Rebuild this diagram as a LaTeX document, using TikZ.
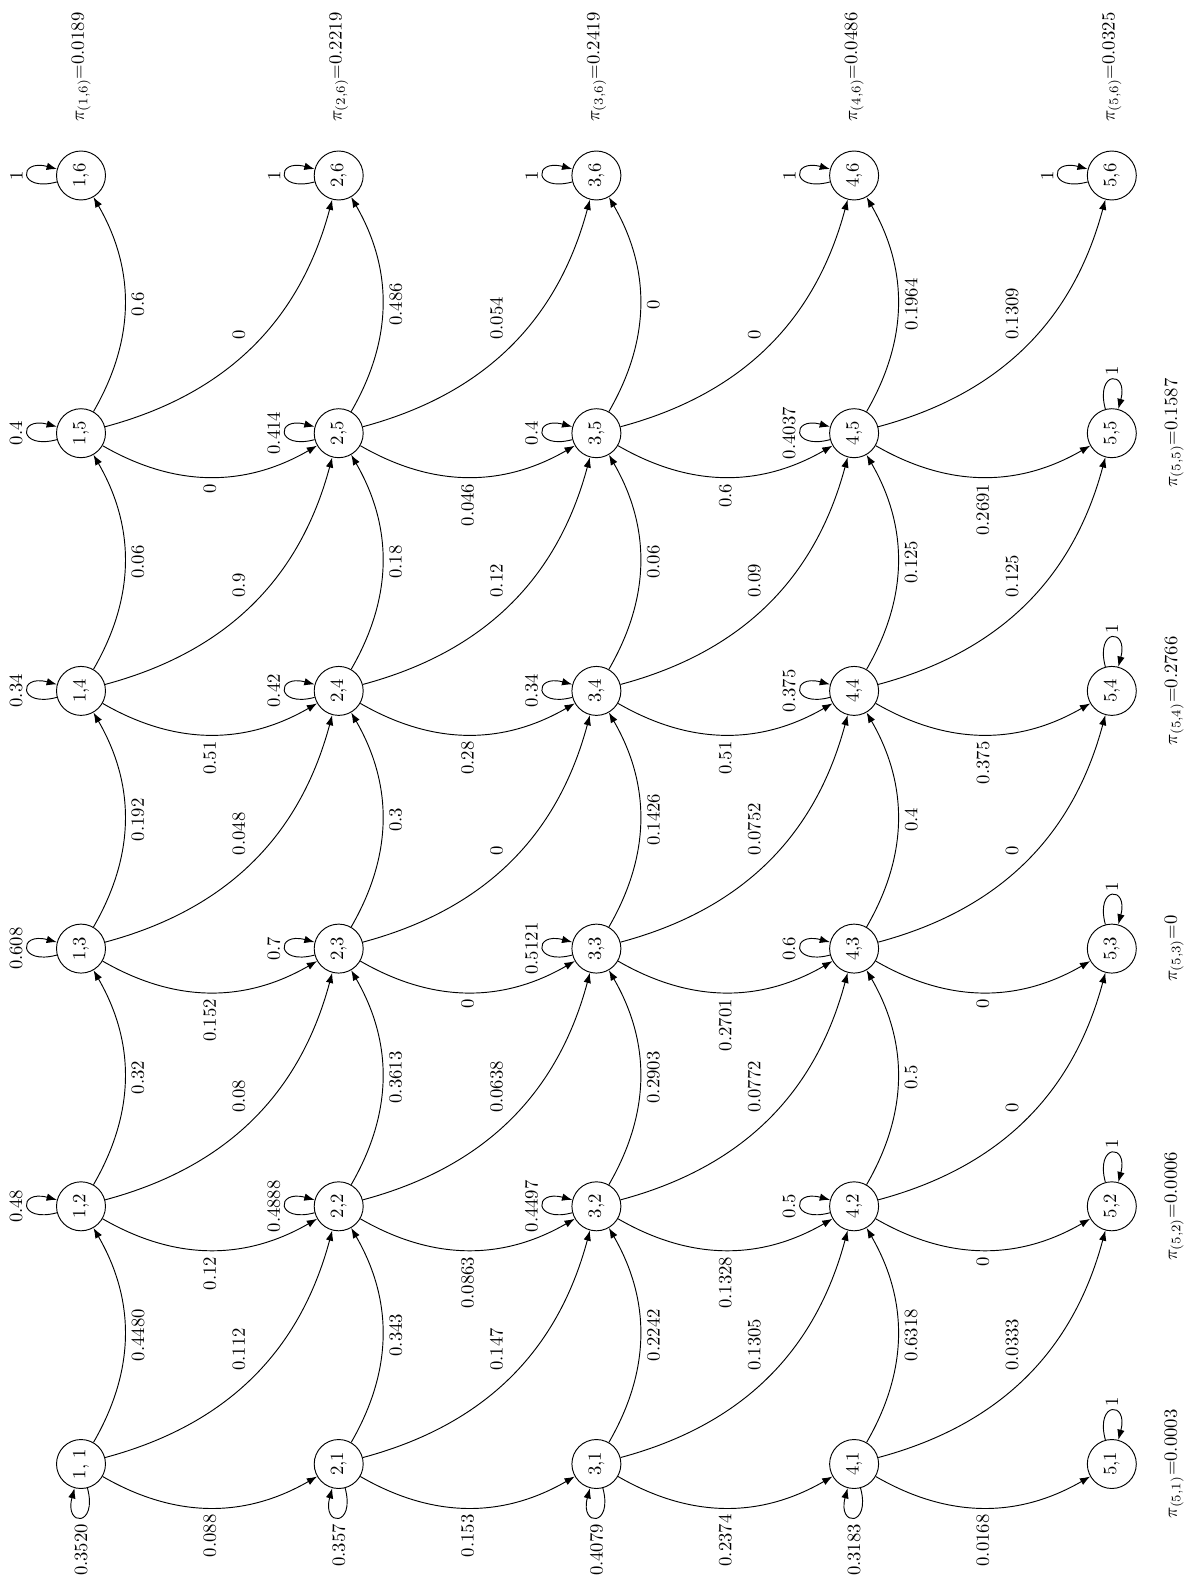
\documentclass[tikz,border=0pt]{standalone}
\usetikzlibrary{arrows.meta}
\begin{document}
\begin{tikzpicture}[x=0.5348pt,y=-0.5348pt,line width=0.5pt,
  >={Latex[length=5.5pt,width=4pt]},
  st/.style={draw,circle,minimum size=26.2pt,inner sep=0pt},
  lab/.style={rotate=90}]
\useasboundingbox (0,0) rectangle (1193,1583);
% states
\foreach \i in {1,...,5}{
  \foreach \j in {1,...,6}{
    \pgfmathsetmacro\xx{81+257.7*(\i-1)}
    \pgfmathsetmacro\yy{1464-257.7*(\j-1)}
    \node[st] (n\i\j) at (\xx,\yy) {\rotatebox{90}{\ifnum\i\j=11 1, 1\else\i,\j\fi}};
  }
}
% edges (i,j) -> (i,j+1)
\foreach \i/\j/\l [evaluate=\j as \k using int(\j+1)] in {
  1/1/0.4480,1/2/0.32,1/3/0.192,1/4/0.06,1/5/0.6,
  2/1/0.343,2/2/0.3613,2/3/0.3,2/4/0.18,2/5/0.486,
  3/1/0.2242,3/2/0.2903,3/3/0.1426,3/4/0.06,3/5/0,
  4/1/0.6318,4/2/0.5,4/3/0.4,4/4/0.125,4/5/0.1964}
  \draw[->] (n\i\j) to[bend right] node[lab,anchor=north] {\l} (n\i\k);
% edges (i,j) -> (i+1,j)
\foreach \i/\j/\l [evaluate=\i as \k using int(\i+1)] in {
  1/1/0.088,1/2/0.12,1/3/0.152,1/4/0.51,1/5/0,
  2/1/0.153,2/2/0.0863,2/3/0,2/4/0.28,2/5/0.046,
  3/1/0.2374,3/2/0.1328,3/3/0.2701,3/4/0.51,3/5/0.6,
  4/1/0.0168,4/2/0,4/3/0,4/4/0.375,4/5/0.2691}
  \draw[->] (n\i\j) to[bend right] node[lab,anchor=east] {\l} (n\k\j);
% edges (i,j) -> (i+1,j+1)
\foreach \i/\j/\l [evaluate=\i as \k using int(\i+1), evaluate=\j as \m using int(\j+1)] in {
  1/1/0.112,1/2/0.08,1/3/0.048,1/4/0.9,1/5/0,
  2/1/0.147,2/2/0.0638,2/3/0,2/4/0.12,2/5/0.054,
  3/1/0.1305,3/2/0.0772,3/3/0.0752,3/4/0.09,3/5/0,
  4/1/0.0333,4/2/0,4/3/0,4/4/0.125,4/5/0.1309}
  \draw[->] (n\i\j) to[bend right] node[lab,anchor=south west] {\l} (n\k\m);
% loops below
\foreach \i/\l in {1/0.3520,2/0.357,3/0.4079,4/0.3183}
  \draw[->] (n\i1) to[loop below] node[lab,anchor=east] {\l} (n\i1);
% loops left
\foreach \i/\j/\l in {
  1/2/0.48,1/3/0.608,1/4/0.34,1/5/0.4,1/6/1,
  2/2/0.4888,2/3/0.7,2/4/0.42,2/5/0.414,2/6/1,
  3/2/0.4497,3/3/0.5121,3/4/0.34,3/5/0.4,3/6/1,
  4/2/0.5,4/3/0.6,4/4/0.375,4/5/0.4037,4/6/1,
  5/6/1}
  \draw[->] (n\i\j) to[loop left] node[lab,anchor=south,inner sep=2.5pt] {\l} (n\i\j);
% loops above (row 5)
\foreach \j in {1,...,5}
  \draw[->] (n5\j) to[loop above] node[lab,anchor=west,inner sep=2pt] {1} (n5\j);
% stationary probabilities
\foreach \i/\l in {1/0.0189,2/0.2219,3/0.2419,4/0.0486,5/0.0325}
  \node[lab,anchor=west] (p\i6) at ([yshift=11.8pt]n\i6.north) {$\pi_{(\i,6)}$=\l};
\foreach \j/\l in {1/0.0003,2/0.0006,3/0,4/0.2766,5/0.1587}
  \node[lab,anchor=north] (p5\j) at ([xshift=11.2pt]n5\j.east) {$\pi_{(5,\j)}$=\l};
\end{tikzpicture}
\end{document}
